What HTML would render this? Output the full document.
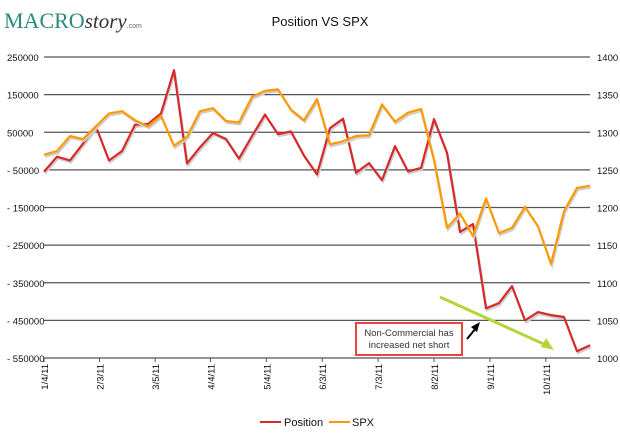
<!DOCTYPE html>
<html><head><meta charset="utf-8"><style>
body{margin:0;background:#fff;width:620px;height:433px;overflow:hidden;font-family:"Liberation Sans",sans-serif}
</style></head><body>
<svg id="c" width="620" height="433" xmlns="http://www.w3.org/2000/svg">
<text x="4" y="28" font-family="Liberation Serif,serif" font-size="22" fill="#2a8a80">MACRO<tspan font-style="italic" fill="#333" font-size="21">story</tspan><tspan font-size="7" fill="#666" font-family="Liberation Sans,sans-serif">.com</tspan></text>
<text x="320" y="26" text-anchor="middle" font-size="13" fill="#111">Position VS SPX</text>
<g id="grid"></g><g id="ticks"></g><g id="series"></g>
<g>
<line x1="440" y1="297" x2="548" y2="346" stroke="#b5d63a" stroke-width="3"/>
<polygon points="554,350 541,347 546,338" fill="#b5d63a"/>
<line x1="467" y1="339" x2="476" y2="328" stroke="#000" stroke-width="2"/>
<polygon points="480,322 471,327 477,332" fill="#000"/>
<rect x="356" y="323" width="106" height="32" fill="#fff" stroke="#e8453c" stroke-width="2"/>
<text x="409" y="336" text-anchor="middle" font-size="9.5" fill="#333">Non-Commercial has</text>
<text x="409" y="348" text-anchor="middle" font-size="9.5" fill="#333">increased net short</text>
</g>
<g>
<line x1="260" y1="422" x2="281" y2="422" stroke="#d62a2a" stroke-width="2"/>
<text x="284" y="426" font-size="11" fill="#111">Position</text>
<line x1="329" y1="422" x2="350" y2="422" stroke="#ff9900" stroke-width="2"/>
<text x="352" y="426" font-size="11" fill="#111">SPX</text>
</g>
</svg>
<script>
const position=[-55000,-15000,-25000,20000,65000,-25000,0,70000,72000,100000,215000,-33000,10000,48000,32000,-20000,40000,97000,45000,52000,-12000,-62000,61000,86000,-58000,-32000,-77000,13000,-54000,-45000,85000,-5000,-215000,-194000,-418000,-404000,-359000,-450000,-428000,-436000,-441000,-532000,-516000];
const spx=[1270,1275,1295,1291,1308,1325,1328,1316,1308,1322,1282,1294,1328,1332,1315,1313,1347,1355,1357,1330,1316,1344,1284,1288,1295,1296,1337,1314,1326,1331,1263,1173,1192,1162,1212,1166,1173,1201,1175,1125,1195,1226,1229];
const leftTicks=[250000,150000,50000,-50000,-150000,-250000,-350000,-450000,-550000];
const rightTicks=[1400,1350,1300,1250,1200,1150,1100,1050,1000];
const xLabels=["1/4/11","2/3/11","3/5/11","4/4/11","5/4/11","6/3/11","7/3/11","8/2/11","9/1/11","10/1/11"];
const xLabelIdx=[0,4.27,8.55,12.8,17.1,21.4,25.7,30,34.3,38.6];
const NS="http://www.w3.org/2000/svg";
const X0=44,X1=590,Y0=57,Y1=358;
const xs=i=>X0+i*(X1-X0)/(position.length-1);
const yl=v=>Y0+(250000-v)/800000*(Y1-Y0);
const yr=v=>Y0+(1400-v)/400*(Y1-Y0);
function mk(t,a,p){const e=document.createElementNS(NS,t);for(const k in a)e.setAttribute(k,a[k]);p.appendChild(e);return e;}
const g=document.getElementById('grid'),tk=document.getElementById('ticks'),s=document.getElementById('series');
leftTicks.forEach((v,i)=>{const y=yl(v);
const l=mk('line',{x1:X0,x2:X1,y1:y,y2:y,stroke:'#555','stroke-width':1.3},g);


const t=mk('text',{x:7,y:y+4,'font-size':9.5,fill:'#111'},tk);t.textContent=String(v).replace('-','- ');


const r=mk('text',{x:597,y:yr(rightTicks[i])+4,'font-size':9.5,fill:'#111'},tk);r.textContent=rightTicks[i];


});
mk('line',{x1:X0,x2:X0,y1:Y1,y2:Y1+4,stroke:'#555'},g);
xLabels.forEach((lab,i)=>{const x=xs(xLabelIdx[i]);
mk('line',{x1:x,x2:x,y1:Y1,y2:Y1+4,stroke:'#555'},g);
const t=mk('text',{transform:`translate(${x+4},${Y1+6}) rotate(-90)`,'text-anchor':'end','font-size':9.5,fill:'#111'},tk);t.textContent=lab;


});
function line(arr,f,col,name){const pts=arr.map((v,i)=>xs(i)+','+f(v)).join(' ');
mk('polyline',{points:arr.map((v,i)=>xs(i)+1+','+(f(v)+2)).join(' '),fill:'none',stroke:'#ccc','stroke-width':2},s);
const p=mk('polyline',{points:pts,fill:'none',stroke:col,'stroke-width':2.2,'stroke-linejoin':'round'},s);

}
line(position,yl,'#d62a2a','position-line');
line(spx,yr,'#ff9900','spx-line');
</script>
</body></html>
